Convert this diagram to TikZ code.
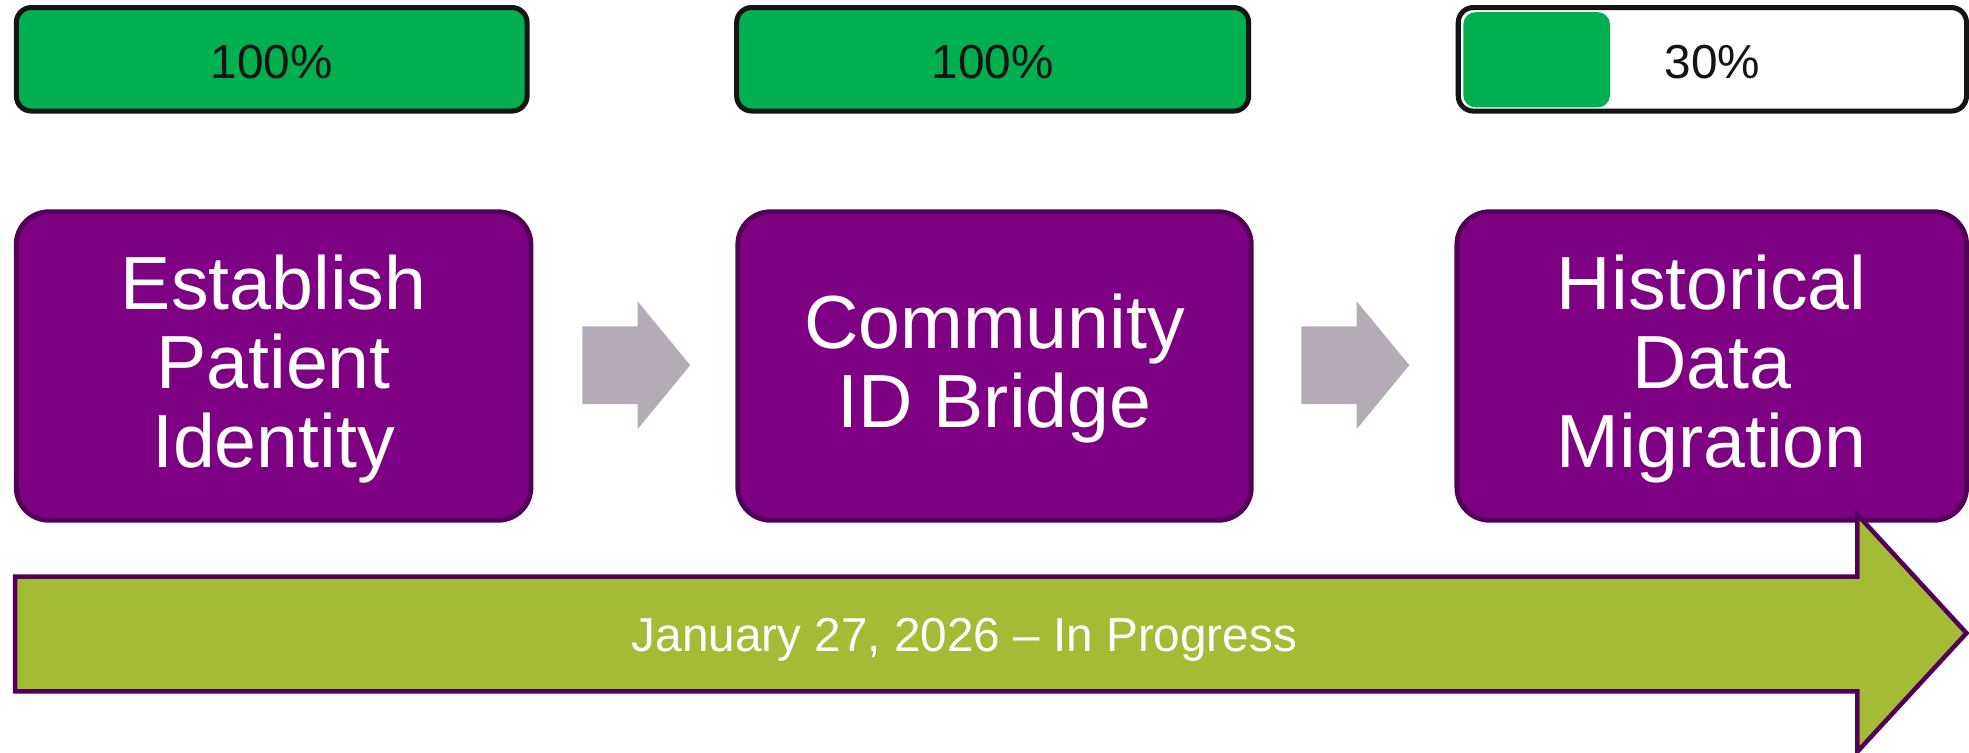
\documentclass[tikz,border=0pt]{standalone}
\usepackage{fontspec}
\setmainfont{Liberation Sans}
\definecolor{pgreen}{HTML}{00B050}
\definecolor{barline}{HTML}{141414}
\definecolor{pfill}{HTML}{7E0083}
\definecolor{pline}{HTML}{520057}
\definecolor{olive}{HTML}{A3BB35}
\definecolor{grayarr}{HTML}{B4ABB7}
\begin{document}
\begin{tikzpicture}[x=0.5pt,y=-0.5pt,
  bar/.style={draw=barline, line width=2pt, rounded corners=6pt, inner sep=0pt, minimum height=41.25pt},
  stepbox/.style={draw=pline, fill=pfill, line width=2pt, rounded corners=13pt, inner sep=0pt, minimum height=122.85pt},
  bartext/.style={text=barline, font=\fontsize{19}{22}\selectfont, anchor=base, inner sep=0pt},
  boxtext/.style={text=white, font=\fontsize{30}{31.5}\selectfont, anchor=base, inner sep=0pt},
  flowarrow/.style={fill=grayarr, draw=none},
  timeline/.style={fill=olive, draw=pline, line width=1.8pt, line join=miter},
  timetext/.style={text=white, font=\fontsize{19}{22}\selectfont, anchor=base, inner sep=0pt}]
\useasboundingbox (0,0) rectangle (1569,600);

% progress bars
\node[bar, fill=pgreen, minimum width=203.5pt] (bar1) at (216.5,47.25) {};
\node[bar, fill=pgreen, minimum width=204pt] (bar2) at (791,47.25) {};
\node[bar, fill=white, minimum width=202.5pt] (bar3) at (1364.5,47.25) {};
\node[fill=pgreen, rounded corners=5pt, inner sep=0pt, minimum width=58.5pt, minimum height=38pt] (bar3fill) at (1224.5,47.65) {};
\node[bartext] (p1) at (216.5,62.5) {100\%};
\node[bartext] (p2) at (791,62.5) {100\%};
\node[bartext] (p3) at (1364.5,62.5) {30\%};

% step boxes
\node[stepbox, minimum width=205pt] (box1) at (218,291.65) {};
\node[stepbox, minimum width=204.5pt] (box2) at (792.5,291.65) {};
\node[stepbox, minimum width=203pt] (box3) at (1364,291.65) {};

\node[boxtext] (t1a) at (218,246.5) {Establish};
\node[boxtext] (t1b) at (218,309.5) {Patient};
\node[boxtext] (t1c) at (218,372.5) {Identity};

\node[boxtext] (t2a) at (792.5,278) {Community};
\node[boxtext] (t2b) at (792.5,341) {ID Bridge};

\node[boxtext] (t3a) at (1364,246.5) {Historical};
\node[boxtext] (t3b) at (1364,309.5) {Data};
\node[boxtext] (t3c) at (1364,372.5) {Migration};

% gray flow arrows
\fill[flowarrow] (464,260) -- (508,260) -- (508,240) -- (550,291) -- (508,342) -- (508,322) -- (464,322) -- cycle;
\fill[flowarrow] (1037,260) -- (1081,260) -- (1081,240) -- (1123,291) -- (1081,342) -- (1081,322) -- (1037,322) -- cycle;

% timeline arrow
\coordinate (tl) at (12,459.5);
\coordinate (tip) at (1567,504.5);
\draw[timeline] (tl) -- (1480,459.5) -- (1480,410) -- (tip) -- (1480,599) -- (1480,551) -- (12,551) -- cycle;
\node[timetext] (date) at (768.5,519) {January 27, 2026 – In Progress};
\end{tikzpicture}
\end{document}
